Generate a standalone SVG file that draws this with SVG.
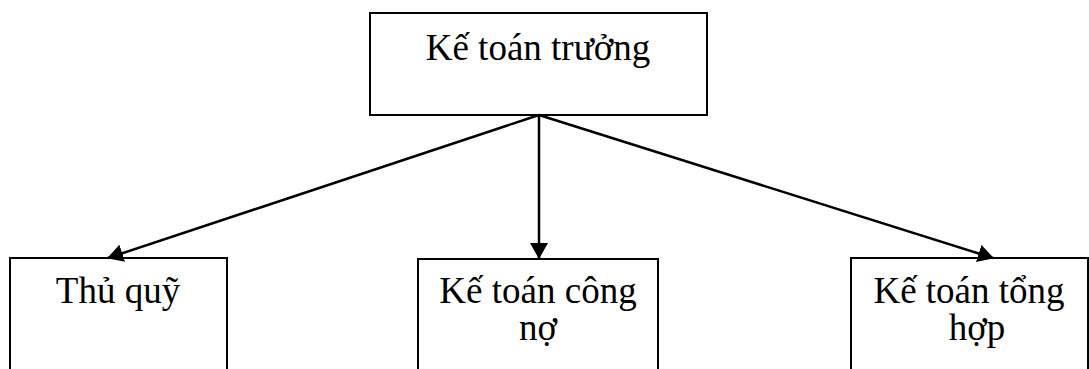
<svg xmlns="http://www.w3.org/2000/svg" width="1089" height="369" viewBox="0 0 1089 369">
<style>
.box{fill:#fff;stroke:#000;stroke-width:2}
.t{font-family:"Liberation Serif","Times New Roman",serif;font-size:37px;fill:#000;text-anchor:middle}
.c{stroke:#000;stroke-width:2.5;fill:none}
</style>
<defs>
<marker id="ah" viewBox="0 0 16 18" refX="15" refY="9" markerWidth="16" markerHeight="18" markerUnits="userSpaceOnUse" orient="auto">
<path d="M0,0 L16,9 L0,18 Z" fill="#000"/>
</marker>
</defs>
<rect width="1089" height="369" fill="#fff"/>
<g id="node-ketoantruong">
<rect class="box" x="370" y="13" width="337" height="102"/>
<text class="t" x="538" y="60">Kế toán trưởng</text>
</g>
<g id="node-thuquy">
<rect class="box" x="10" y="258" width="217" height="120"/>
<text class="t" x="118" y="303">Thủ quỹ</text>
</g>
<g id="node-ketoancongno">
<rect class="box" x="418" y="259" width="240" height="120"/>
<text class="t" x="538" y="303">Kế toán công</text>
<text class="t" x="538" y="340">nợ</text>
</g>
<g id="node-ketoantonghop">
<rect class="box" x="851" y="258" width="237" height="120"/>
<text class="t" x="969" y="303">Kế toán tổng</text>
<text class="t" x="977" y="340">hợp</text>
</g>
<g id="connectors">
<line class="c" x1="539" y1="115" x2="108" y2="258" marker-end="url(#ah)"/>
<line class="c" x1="539" y1="115" x2="539" y2="258" marker-end="url(#ah)"/>
<line class="c" x1="539" y1="115" x2="993" y2="258" marker-end="url(#ah)"/>
</g>
</svg>
